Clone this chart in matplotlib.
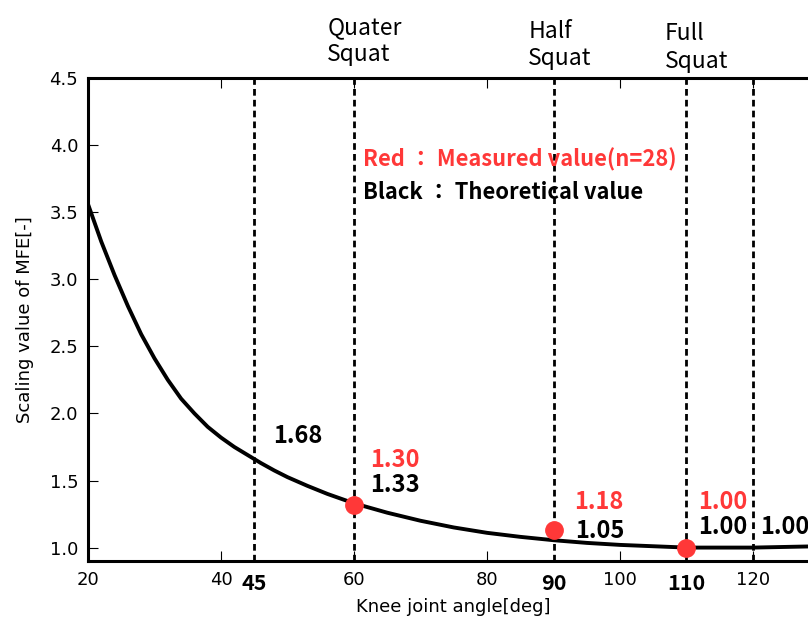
import numpy as np
import matplotlib
matplotlib.use('Agg')
import matplotlib.pyplot as plt

# 理論曲線
angle = [20, 22, 24, 26, 28, 30, 32, 34, 36, 38, 40, 42, 44, 46, 48, 50, 53, 56, 60,
         65, 70, 75, 80, 85, 90, 95, 100, 105, 110, 115, 120, 125, 130]
scale = [3.56, 3.28, 3.03, 2.80, 2.59, 2.41, 2.25, 2.11, 2.00, 1.90, 1.82, 1.75, 1.69,
         1.63, 1.575, 1.525, 1.46, 1.40, 1.33, 1.26, 1.20, 1.15, 1.11, 1.08, 1.055,
         1.035, 1.02, 1.01, 1.00, 1.00, 1.00, 1.005, 1.01]

# 実測値（赤丸）
meas_angle = [60, 90, 110]
meas_value = [1.32, 1.13, 1.00]
meas_labels = ['1.30', '1.18', '1.00']

# 理論値ラベル
theo_labels = ['1.68', '1.33', '1.05', '1.00', '1.00']

# 縦の破線
vlines = [45, 60, 90, 110, 120]
bold_ticks = [45, 90, 110]
squat_names = [(60, 'Quater', 'Squat'), (90, 'Half', 'Squat'), (110, 'Full', 'Squat')]

RED = '#ff3838'
JP = ['Noto Sans CJK JP', 'DejaVu Sans']

fig = plt.figure(figsize=(8.08, 6.21), dpi=100)
ax = fig.add_axes([88 / 808, 60 / 621, 731.5 / 808, 483 / 621])

for v in vlines:
    ax.axvline(v, color='black', lw=2, linestyle=(0, (2.4, 1.5)), zorder=1)

ax.plot(angle, scale, color='black', lw=2.8, zorder=2)
ax.plot(meas_angle, meas_value, 'o', color=RED, markersize=12.5, zorder=3)

ax.set_xlim(20, 130)
ax.set_ylim(0.9, 4.5)
ax.set_xticks([20, 40, 60, 80, 100, 120])
ax.set_yticks(np.arange(1.0, 4.51, 0.5))
ax.tick_params(direction='in', length=7, width=0.8, top=True, right=True,
               labelsize=13, pad=7)
for s in ax.spines.values():
    s.set_linewidth(2.2)

ax.set_xlabel('Knee joint angle[deg]', fontsize=13, labelpad=7)
ax.set_ylabel('Scaling value of MFE[-]', fontsize=13, labelpad=11)

# 太字の角度ラベル
for b in bold_ticks:
    ax.text(b, 0.735, str(b), ha='center', va='center', fontsize=15.5,
            fontweight='bold', family=JP, clip_on=False)

# スクワットの種類
name_pos = {60: (56.0, 4.875, 4.678), 90: (86.2, 4.85, 4.648), 110: (106.7, 4.83, 4.62)}
for a, l1, l2 in squat_names:
    x0, y1, y2 = name_pos[a]
    ax.text(x0, y1, l1, ha='left', va='center', fontsize=16.5, family=JP, clip_on=False)
    ax.text(x0, y2, l2, ha='left', va='center', fontsize=16.5, family=JP, clip_on=False)

# 凡例テキスト
ax.text(61.4, 3.893, 'Red ： Measured value(n=28)', color=RED, fontsize=15.8,
        fontweight='bold', family=JP, ha='left', va='center')
ax.text(61.4, 3.644, 'Black ： Theoretical value', color='black', fontsize=15.8,
        fontweight='bold', family=JP, ha='left', va='center')

# 数値ラベル
theo_pos = [(47.9, 1.828), (62.5, 1.463), (93.2, 1.127), (111.8, 1.151), (121.05, 1.151)]
for (x, y), t in zip(theo_pos, theo_labels):
    ax.text(x, y, t, fontsize=17, fontweight='bold', family=JP, ha='left', va='center')
meas_pos = [(62.5, 1.654), (93.1, 1.338), (111.8, 1.338)]
for (x, y), t in zip(meas_pos, meas_labels):
    ax.text(x, y, t, color=RED, fontsize=17, fontweight='bold', family=JP,
            ha='left', va='center')

fig.savefig('out.png', dpi=100)
